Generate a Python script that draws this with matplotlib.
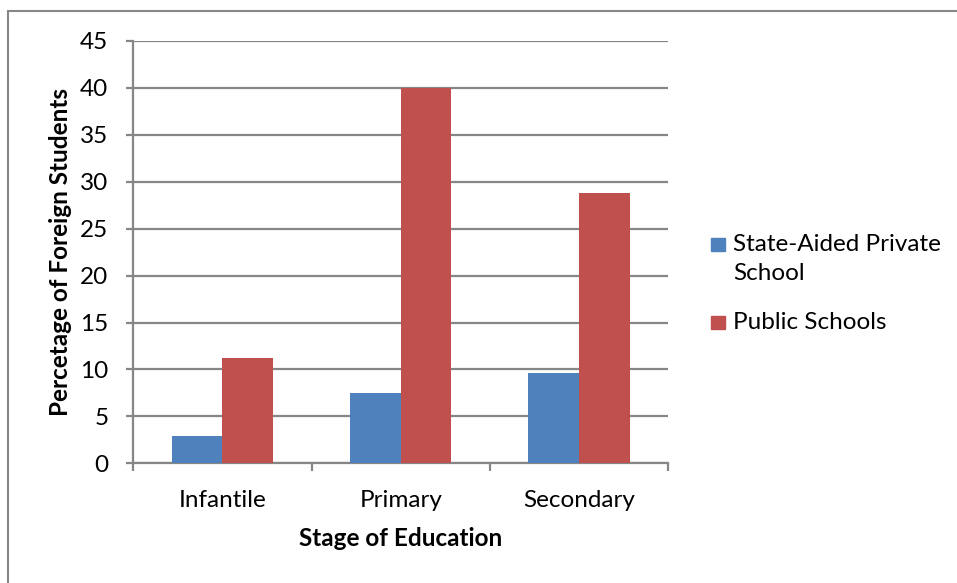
import matplotlib
matplotlib.use("Agg")
import matplotlib.pyplot as plt
from matplotlib.patches import Rectangle
import numpy as np

categories = ["Infantile", "Primary", "Secondary"]
private_vals = [2.9, 7.5, 9.6]
public_vals = [11.2, 40.0, 28.8]
series_names = ["State-Aided Private\nSchool", "Public Schools"]
y_ticks = [0, 5, 10, 15, 20, 25, 30, 35, 40, 45]

BLUE = "#4F81BD"
RED = "#C0504D"
GRID = "#868686"
FS = 17.5

plt.rcParams["font.family"] = ["Lato", "DejaVu Sans"]

W, H = 957, 583
fig = plt.figure(figsize=(W / 100, H / 100), dpi=100)

# outer chart frame
fig.patches.append(Rectangle((8 / W, -0.1), 2.0, 1.1 - 11.5 / H,
                             transform=fig.transFigure, fill=False,
                             edgecolor=GRID, linewidth=1.5))

ax = fig.add_axes([133.3 / W, 1 - 463.3 / H, 535 / W, 422.3 / H])

x = np.arange(len(categories))
bw = 0.284
ax.bar(x - bw / 2, private_vals, bw, color=BLUE, zorder=3)
ax.bar(x + bw / 2, public_vals, bw, color=RED, zorder=3)

ax.set_ylim(0, 45)
ax.set_xlim(-0.5, len(categories) - 0.5)
ax.set_yticks(y_ticks)
ax.yaxis.grid(True, color=GRID, linewidth=1.6, zorder=0)
ax.set_axisbelow(True)

# category labels sit between boundary ticks
ax.set_xticks(np.arange(-0.5, len(categories)), minor=False)
ax.set_xticklabels([])
ax.set_xticks(x, minor=True)
ax.set_xticklabels(categories, minor=True)
ax.tick_params(axis="x", which="major", direction="out", length=6,
               width=1.6, color=GRID)
ax.tick_params(axis="x", which="minor", length=0, pad=19, labelsize=FS)
ax.tick_params(axis="y", direction="out", length=5, width=1.6,
               color=GRID, pad=13, labelsize=FS)

for s in ["top", "right"]:
    ax.spines[s].set_visible(False)
for s in ["left", "bottom"]:
    ax.spines[s].set_color(GRID)
    ax.spines[s].set_linewidth(1.6)

ax.set_ylabel("Percetage of Foreign Students", fontsize=FS, fontweight="bold")
ax.yaxis.set_label_coords(-0.137, 0.5)
ax.yaxis.label.set_va("center")
ax.set_xlabel("Stage of Education", fontsize=FS, fontweight="bold")
ax.xaxis.set_label_coords(0.5, -0.177)
ax.xaxis.label.set_va("center")

# legend
for (color, label, ytop) in [(BLUE, series_names[0], 238), (RED, series_names[1], 316)]:
    fig.patches.append(Rectangle((711 / W, 1 - (ytop + 13) / H), 14 / W, 13 / H,
                                 transform=fig.transFigure, color=color))
    fig.text(733 / W, 1 - (ytop - 4) / H, label, fontsize=FS, va="top",
             ha="left", linespacing=1.5)

fig.savefig("out.png", dpi=100)
